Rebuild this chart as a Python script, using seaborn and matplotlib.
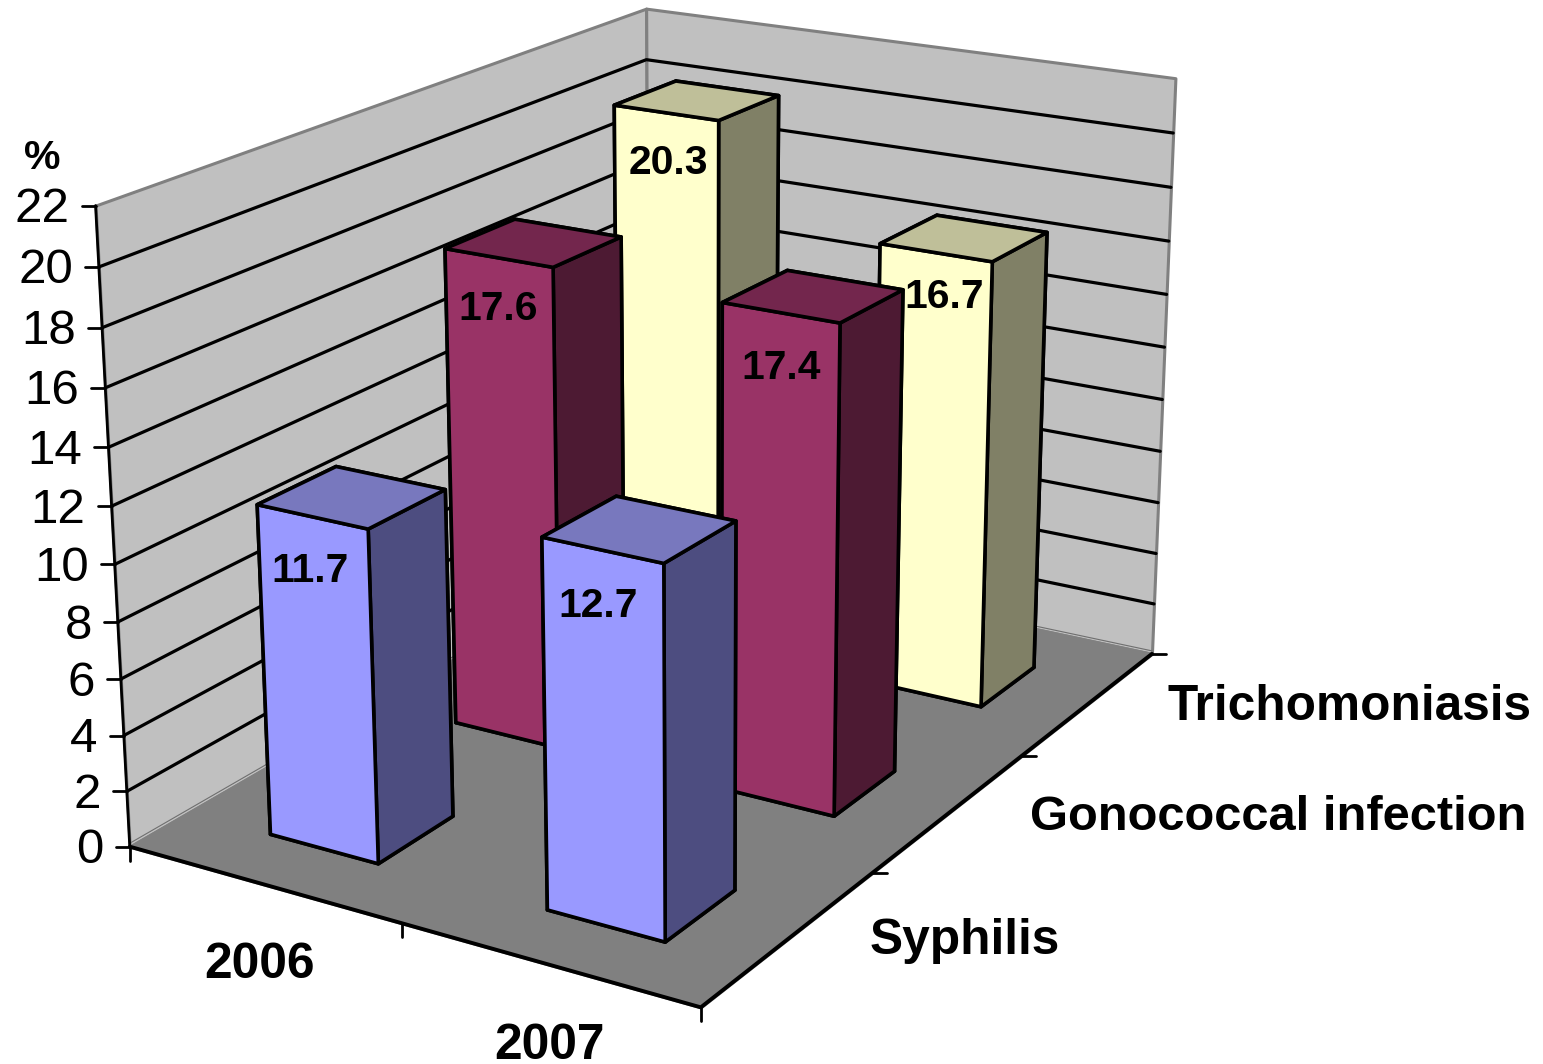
#!/usr/bin/env python3
"""3D column chart: infection percentages for 2006 and 2007."""

import numpy as np
import pandas as pd
import matplotlib
matplotlib.use("Agg")
import matplotlib.pyplot as plt
from mpl_toolkits.mplot3d.art3d import Poly3DCollection
import seaborn as sns

W, H = 1543, 1064

years = ["2006", "2007"]
diseases = ["Syphilis", "Gonococcal infection", "Trichomoniasis"]
syphilis = [11.7, 12.7]
gonococcal = [17.6, 17.4]
trichomoniasis = [20.3, 16.7]
z_ticks = list(range(0, 24, 2))

# colours: front, side, top
PALETTE = {
    "Syphilis": sns.color_palette(["#9999FF", "#4D4D80", "#7878BE"]),
    "Gonococcal infection": sns.color_palette(["#993366", "#4D1A33", "#73264D"]),
    "Trichomoniasis": sns.color_palette(["#FFFFCC", "#808066", "#BFBF99"]),
}

# world position (category, series, value) -> picture pixel, used to fit the camera
CAL_WORLD = [(0, 0, 0), (1, 0, 0), (2, 0, 0), (2, 1, 0), (2, 2, 0), (2, 3, 0), (0, 3, 0),
             (0, 0, 22), (0, 3, 22), (2, 3, 22), (0, 0, 20), (0, 0, 10)]
CAL_PIXEL = [(129, 846), (402, 925), (702, 1007), (872, 871), (1021, 757), (1152, 654), (650, 546),
             (96, 205), (645, 9), (1176, 78), (99, 267), (115, 565)]

BAR_X0, BAR_Y0 = 0.31, 0.29
BAR_DX, BAR_DY = 0.40, 0.395

# small pixel nudges of the value labels (disease, year) -> (dx, dy)
LABEL_NUDGE = {
    ("Trichomoniasis", "2006"): (4, -2), ("Trichomoniasis", "2007"): (10, -8),
    ("Gonococcal infection", "2006"): (2, -1), ("Gonococcal infection", "2007"): (2, 3),
    ("Syphilis", "2006"): (0, 2), ("Syphilis", "2007"): (-2, 4),
}

sns.set_theme(style="white")
plt.rcParams["font.family"] = ["Liberation Sans", "DejaVu Sans"]

df = pd.DataFrame({"Syphilis": syphilis, "Gonococcal infection": gonococcal,
                   "Trichomoniasis": trichomoniasis}, index=years)


def fit_camera(world, pixel):
    rows = []
    for (x, y, z), (u, v) in zip(world, pixel):
        u, v = u / 1000, v / 1000
        rows.append([x, y, z, 1, 0, 0, 0, 0, -u * x, -u * y, -u * z, -u])
        rows.append([0, 0, 0, 0, x, y, z, 1, -v * x, -v * y, -v * z, -v])
    P = np.linalg.svd(np.array(rows, float))[2][-1].reshape(3, 4)
    if P[2] @ np.array([0, 0, 0, 1.0]) < 0:
        P = -P
    P[:2] *= 1000
    return P


CAM = fit_camera(CAL_WORLD, CAL_PIXEL)


def project(x, y, z):
    q = CAM @ np.array([x, y, z, 1.0])
    return q[0] / q[2], q[1] / q[2]


fig = plt.figure(figsize=(W / 100, H / 100), dpi=100)
ax = fig.add_axes([0, 0, 1, 1], projection="3d")
ax.set_axis_off()
ax.patch.set_alpha(0)
ax.computed_zorder = False
ax.apply_aspect = lambda position=None: None


def picture_proj():
    inv = ax.transData.inverted()
    (x0, y0), (x1, y1) = inv.transform([(0, 0), (W, H)])
    sx, sy = (x1 - x0) / W, (y1 - y0) / H
    row_x = x0 * CAM[2] + sx * CAM[0]
    row_y = (y0 + sy * H) * CAM[2] - sy * CAM[1]
    return np.array([row_x, row_y, [0, 0, 0, -1.0], CAM[2]])


ax.get_proj = picture_proj

# walls and floor
for verts, col, ec, zo in [
    ([(0, 0, 0), (0, 3, 0), (0, 3, 22), (0, 0, 22)], "#C0C0C0", "#808080", 1),
    ([(0, 3, 0), (2, 3, 0), (2, 3, 22), (0, 3, 22)], "#C0C0C0", "#808080", 1),
    ([(0, 0, 0), (2, 0, 0), (2, 3, 0), (0, 3, 0)], "#808080", "#808080", 2),
]:
    ax.add_collection3d(Poly3DCollection([verts], facecolors=col, edgecolors=ec,
                                         linewidths=2.2, zorder=zo))

# thin seam where the walls meet the floor
ax.plot([0, 0, 2], [0, 3, 3], [0.12, 0.12, 0.12], color="#6E6E6E", lw=0.8, zorder=3)

for z in z_ticks[1:-1]:
    ax.plot([0, 0, 2], [0, 3, 3], [z, z, z], color="black", lw=2.3, zorder=3)
ax.plot([0, 0], [0, 0], [0, 22], color="black", lw=2.0, zorder=3)
ax.plot([0, 2, 2], [0, 0, 3], [0, 0, 0], color="black", lw=2.8, zorder=3)

# columns, back row first
zo = 4
for disease in reversed(diseases):
    front, side, top = PALETTE[disease]
    j = diseases.index(disease)
    for i, year in enumerate(years):
        bar = ax.bar3d(i + BAR_X0, j + BAR_Y0, 0, BAR_DX, BAR_DY,
                       df.loc[year, disease], shade=False,
                       color=[top, top, front, front, side, side],
                       edgecolor="black", linewidth=2.6)
        bar.set_zorder(zo)
        zo += 1

# overlay in picture pixels for ticks and texts
ov = fig.add_axes([0, 0, 1, 1], facecolor="none")
ov.set_xlim(0, W)
ov.set_ylim(H, 0)
ov.axis("off")

for z in z_ticks:
    px, py = project(0, 0, z)
    ov.plot([px - 14, px], [py, py], color="black", lw=2.0)
    ov.text(px - 26, py + 4, str(z), ha="right", va="center", fontsize=35.5, color="black")
for i in range(3):
    px, py = project(i, 0, 0)
    ov.plot([px, px], [py, py + 14], color="black", lw=2.0)
for j in range(1, 4):
    px, py = project(2, j, 0)
    ov.plot([px, px + 14], [py, py], color="black", lw=2.0)

ov.text(42, 158, "%", ha="center", va="center", fontsize=29.5, fontweight="bold", color="black")
for label, (tx, ty) in zip(years, [(260, 965), (549, 1046)]):
    ov.text(tx, ty, label, ha="center", va="center", fontsize=35.7, fontweight="bold", color="black")
for label, (tx, ty, fs) in zip(diseases, [(965, 941, 35.7), (1278, 817, 35.2), (1350, 707, 35.7)]):
    ov.text(tx, ty, label, ha="center", va="center", fontsize=fs, fontweight="bold", color="black")

for disease in diseases:
    j = diseases.index(disease)
    for i, year in enumerate(years):
        value = df.loc[year, disease]
        px, py = project(i + BAR_X0 + BAR_DX / 2, j + BAR_Y0, value)
        ndx, ndy = LABEL_NUDGE[(disease, year)]
        ov.text(px - 2 + ndx, py + 52 + ndy, f"{value:.1f}", ha="center", va="center",
                fontsize=29.4, fontweight="bold", color="black")

fig.savefig("out.png", dpi=100)
